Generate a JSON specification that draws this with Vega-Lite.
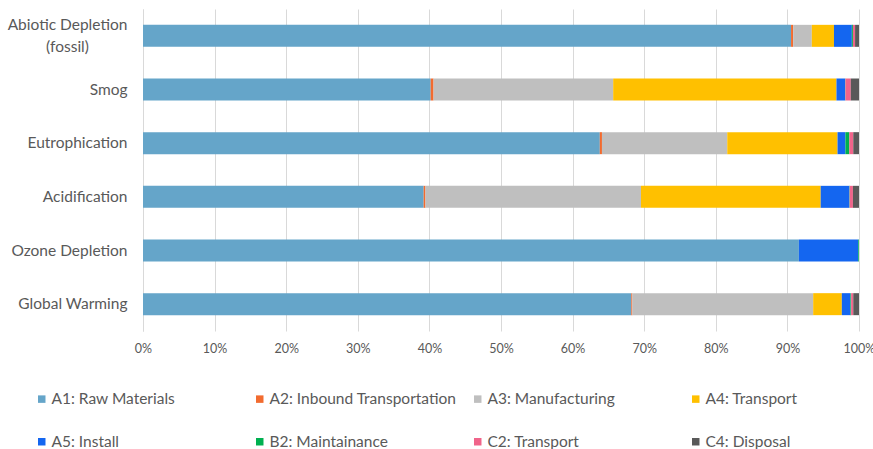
{
  "$schema": "https://vega.github.io/schema/vega-lite/v6.json",
  "width": 716,
  "height": 322,
  "autosize": {"type": "none"},
  "padding": {"left": 143, "top": 9, "right": 14, "bottom": 118},
  "background": "white",
  "config": {
    "font": "Lato",
    "view": {"stroke": null}
  },
  "data": {
    "values": [
      {"category": "Abiotic Depletion (fossil)", "stage": "A1: Raw Materials", "value": 90.6},
      {"category": "Abiotic Depletion (fossil)", "stage": "A2: Inbound Transportation", "value": 0.3},
      {"category": "Abiotic Depletion (fossil)", "stage": "A3: Manufacturing", "value": 2.6},
      {"category": "Abiotic Depletion (fossil)", "stage": "A4: Transport", "value": 3.1},
      {"category": "Abiotic Depletion (fossil)", "stage": "A5: Install", "value": 2.5},
      {"category": "Abiotic Depletion (fossil)", "stage": "B2: Maintainance", "value": 0.15},
      {"category": "Abiotic Depletion (fossil)", "stage": "C2: Transport", "value": 0.3},
      {"category": "Abiotic Depletion (fossil)", "stage": "C4: Disposal", "value": 0.55},
      {"category": "Smog", "stage": "A1: Raw Materials", "value": 40.2},
      {"category": "Smog", "stage": "A2: Inbound Transportation", "value": 0.4},
      {"category": "Smog", "stage": "A3: Manufacturing", "value": 25.1},
      {"category": "Smog", "stage": "A4: Transport", "value": 31.2},
      {"category": "Smog", "stage": "A5: Install", "value": 1.2},
      {"category": "Smog", "stage": "B2: Maintainance", "value": 0.05},
      {"category": "Smog", "stage": "C2: Transport", "value": 0.75},
      {"category": "Smog", "stage": "C4: Disposal", "value": 1.15},
      {"category": "Eutrophication", "stage": "A1: Raw Materials", "value": 63.8},
      {"category": "Eutrophication", "stage": "A2: Inbound Transportation", "value": 0.3},
      {"category": "Eutrophication", "stage": "A3: Manufacturing", "value": 17.5},
      {"category": "Eutrophication", "stage": "A4: Transport", "value": 15.4},
      {"category": "Eutrophication", "stage": "A5: Install", "value": 1.1},
      {"category": "Eutrophication", "stage": "B2: Maintainance", "value": 0.55},
      {"category": "Eutrophication", "stage": "C2: Transport", "value": 0.55},
      {"category": "Eutrophication", "stage": "C4: Disposal", "value": 0.8},
      {"category": "Acidification", "stage": "A1: Raw Materials", "value": 39.2},
      {"category": "Acidification", "stage": "A2: Inbound Transportation", "value": 0.25},
      {"category": "Acidification", "stage": "A3: Manufacturing", "value": 30.1},
      {"category": "Acidification", "stage": "A4: Transport", "value": 25.1},
      {"category": "Acidification", "stage": "A5: Install", "value": 4.0},
      {"category": "Acidification", "stage": "B2: Maintainance", "value": 0.05},
      {"category": "Acidification", "stage": "C2: Transport", "value": 0.45},
      {"category": "Acidification", "stage": "C4: Disposal", "value": 0.85},
      {"category": "Ozone Depletion", "stage": "A1: Raw Materials", "value": 91.6},
      {"category": "Ozone Depletion", "stage": "A5: Install", "value": 8.3},
      {"category": "Ozone Depletion", "stage": "B2: Maintainance", "value": 0.1},
      {"category": "Global Warming", "stage": "A1: Raw Materials", "value": 68.2},
      {"category": "Global Warming", "stage": "A2: Inbound Transportation", "value": 0.15},
      {"category": "Global Warming", "stage": "A3: Manufacturing", "value": 25.25},
      {"category": "Global Warming", "stage": "A4: Transport", "value": 4.0},
      {"category": "Global Warming", "stage": "A5: Install", "value": 1.2},
      {"category": "Global Warming", "stage": "B2: Maintainance", "value": 0.1},
      {"category": "Global Warming", "stage": "C2: Transport", "value": 0.3},
      {"category": "Global Warming", "stage": "C4: Disposal", "value": 0.8}
    ]
  },
  "mark": {"type": "bar", "size": 22},
  "encoding": {
    "y": {
      "field": "category",
      "type": "nominal",
      "sort": ["Abiotic Depletion (fossil)", "Smog", "Eutrophication", "Acidification", "Ozone Depletion", "Global Warming"],
      "scale": {"paddingInner": 0, "paddingOuter": 0},
      "axis": {
        "title": null,
        "ticks": false,
        "domainColor": "#D9D9D9",
        "domainWidth": 1,
        "labelFontSize": 15.5,
        "labelColor": "#595959",
        "labelPadding": {"condition": {"test": "datum.value == 'Abiotic Depletion (fossil)'", "value": 76}, "value": 16},
        "labelAlign": {"condition": {"test": "datum.value == 'Abiotic Depletion (fossil)'", "value": "center"}, "value": "right"},
        "labelOffset": {"condition": {"test": "datum.value == 'Abiotic Depletion (fossil)'", "value": -11}, "value": 0},
        "labelExpr": "datum.value == 'Abiotic Depletion (fossil)' ? ['Abiotic Depletion', '(fossil)'] : datum.label",
        "labelLineHeight": 22
      }
    },
    "x": {
      "field": "value",
      "type": "quantitative",
      "stack": "normalize",
      "axis": {
        "title": null,
        "format": ".0%",
        "values": [0, 0.1, 0.2, 0.3, 0.4, 0.5, 0.6, 0.7, 0.8, 0.9, 1],
        "labelOverlap": false,
        "domain": false,
        "ticks": false,
        "gridColor": "#D9D9D9",
        "gridWidth": 1,
        "labelFontSize": 12.5,
        "labelColor": "#595959",
        "labelPadding": 11,
        "labelFlush": false
      }
    },
    "color": {
      "field": "stage",
      "type": "nominal",
      "scale": {
        "domain": ["A1: Raw Materials", "A2: Inbound Transportation", "A3: Manufacturing", "A4: Transport", "A5: Install", "B2: Maintainance", "C2: Transport", "C4: Disposal"],
        "range": ["#65A5C9", "#F26B2F", "#BFBFBF", "#FFC000", "#1466F0", "#00B050", "#F0648A", "#595959"]
      },
      "legend": {
        "title": null,
        "orient": "none",
        "legendX": -109,
        "legendY": 382,
        "direction": "horizontal",
        "columns": 4,
        "gridAlign": "all",
        "columnPadding": 13,
        "rowPadding": 26,
        "symbolType": "square",
        "symbolSize": 56,
        "symbolStrokeWidth": 0,
        "labelFontSize": 15.5,
        "labelColor": "#595959",
        "labelLimit": 300,
        "labelOffset": 2
      }
    },
    "order": {"field": "stage", "sort": "ascending"}
  }
}
